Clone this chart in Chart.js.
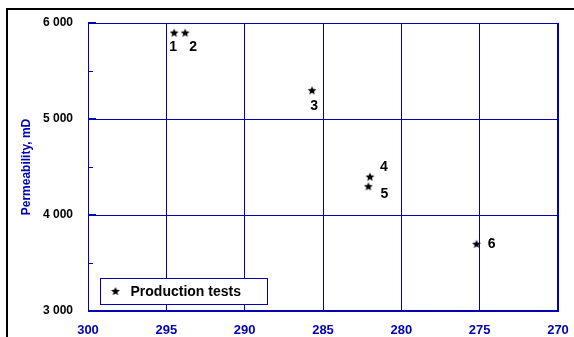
<!DOCTYPE html>
<html>
<head>
<meta charset="utf-8">
<script src="https://cdn.jsdelivr.net/npm/chart.js@4.4.0/dist/chart.umd.min.js"></script>
<style>
  html, body { margin: 0; padding: 0; background: #fff; overflow: hidden; }
  #wrap { position: relative; width: 574px; height: 337px; }
  #frame {
    position: absolute; left: 6px; top: 8px; width: 600px; height: 360px;
    border-left: 2px solid #000; border-top: 2px solid #000;
  }
  canvas { position: absolute; left: 0; top: 0; }
</style>
</head>
<body>
<div id="wrap">
  <div id="frame"></div>
  <canvas id="chart" width="574" height="337"></canvas>
</div>
<script>
const xTicks = [300, 295, 290, 285, 280, 275, 270];
const yTicks = [3000, 4000, 5000, 6000];
const yMinorTicks = [3500, 4500, 5500];
const testNames = ['1', '2', '3', '4', '5', '6'];
const xValues = [294.5, 293.8, 285.7, 282.0, 282.1, 275.2];
const permeability = [5900, 5900, 5300, 4400, 4300, 3700];

const navy = '#0000b4';
const fontFamily = 'Arial, "Liberation Sans", sans-serif';

// label placement next to each star, in px
const labelOffsets = [[-1, 15], [8, 15], [2, 16], [14, -9], [16, 8], [15, 0]];

function makeStar(r) {
  const c = document.createElement('canvas');
  c.width = c.height = Math.ceil(r * 2 + 2);
  const ctx = c.getContext('2d');
  const cx = c.width / 2;
  ctx.fillStyle = '#000';
  ctx.beginPath();
  for (let i = 0; i < 10; i++) {
    const rad = i % 2 === 0 ? r : r * 0.45;
    const a = -Math.PI / 2 + i * Math.PI / 5;
    const px = cx + rad * Math.cos(a);
    const py = cx + 0.5 + rad * Math.sin(a);
    if (i === 0) ctx.moveTo(px, py); else ctx.lineTo(px, py);
  }
  ctx.closePath();
  ctx.fill();
  return c;
}

const starImg = makeStar(4.6);

function spaced(v) {
  return String(v).replace(/\B(?=(\d{3})+(?!\d))/g, ' ');
}

const extras = {
  id: 'extras',
  afterDraw(chart) {
    const { ctx, chartArea, scales } = chart;
    const y = scales.y;
    ctx.save();

    // inward ticks on the y axis
    ctx.strokeStyle = navy;
    ctx.lineWidth = 1;
    yMinorTicks.forEach((v) => {
      const py = Math.round(y.getPixelForValue(v)) + 0.5;
      ctx.beginPath();
      ctx.moveTo(chartArea.left, py);
      ctx.lineTo(chartArea.left + 5, py);
      ctx.stroke();
    });
    ctx.lineWidth = 2;
    yTicks.forEach((v) => {
      const py = Math.round(y.getPixelForValue(v));
      ctx.beginPath();
      ctx.moveTo(chartArea.left, py);
      ctx.lineTo(chartArea.left + 8, py);
      ctx.stroke();
    });

    // y title
    ctx.fillStyle = navy;
    ctx.font = 'bold 12px ' + fontFamily;
    ctx.textAlign = 'center';
    ctx.textBaseline = 'middle';
    ctx.translate(26.5, (chartArea.top + chartArea.bottom) / 2);
    ctx.rotate(-Math.PI / 2);
    ctx.fillText('Permeability, mD', 0, 0);
    ctx.setTransform(1, 0, 0, 1, 0, 0);

    // test numbers
    const meta = chart.getDatasetMeta(0);
    ctx.fillStyle = '#000';
    ctx.font = 'bold 14px ' + fontFamily;
    meta.data.forEach((pt, i) => {
      const [dx, dy] = labelOffsets[i];
      ctx.fillText(testNames[i], pt.x + dx, pt.y + dy);
    });

    // legend box
    ctx.fillStyle = '#fff';
    ctx.fillRect(100, 278, 167, 26);
    ctx.strokeStyle = navy;
    ctx.lineWidth = 1;
    ctx.strokeRect(100.5, 278.5, 167, 26);
    ctx.drawImage(starImg, 115.5 - starImg.width / 2, 291 - starImg.height / 2);
    ctx.fillStyle = '#000';
    ctx.font = 'bold 14px ' + fontFamily;
    ctx.textAlign = 'left';
    ctx.fillText(chart.data.datasets[0].label, 130.5, 292);

    ctx.restore();
  },
};

new Chart(document.getElementById('chart'), {
  type: 'scatter',
  data: {
    datasets: [{
      label: 'Production tests',
      data: xValues.map((x, i) => ({ x, y: permeability[i] })),
      pointStyle: starImg,
      pointRadius: 5,
      pointHoverRadius: 5,
    }],
  },
  options: {
    responsive: false,
    animation: false,
    layout: { padding: { top: 23, right: 16, left: 0, bottom: 0 } },
    plugins: {
      legend: { display: false },
      tooltip: { enabled: false },
    },
    scales: {
      x: {
        type: 'linear',
        reverse: true,
        min: 270,
        max: 300,
        afterBuildTicks(scale) {
          scale.ticks = xTicks.map((value) => ({ value }));
        },
        afterFit(scale) {
          scale.height = 26;
          scale.paddingLeft = 0;
          scale.paddingRight = 0;
        },
        grid: { color: navy, lineWidth: 1, drawTicks: false },
        border: { display: true, color: navy, width: 1 },
        ticks: {
          padding: 12,
          color: navy,
          font: { family: fontFamily, size: 13, weight: 'bold' },
          maxRotation: 0,
        },
      },
      y: {
        min: 3000,
        max: 6000,
        afterBuildTicks(scale) {
          scale.ticks = yTicks.map((value) => ({ value }));
        },
        afterFit(scale) {
          scale.width = 88;
          scale.paddingTop = 0;
          scale.paddingBottom = 0;
        },
        grid: { color: navy, lineWidth: 1, drawTicks: false },
        border: { display: true, color: navy, width: 1 },
        ticks: {
          padding: 15,
          color: '#000',
          font: { family: fontFamily, size: 12, weight: 'bold' },
          callback: (v) => spaced(v),
        },
      },
    },
  },
  plugins: [{
    id: 'plotBorder',
    beforeDatasetsDraw(chart) {
      const { ctx, chartArea } = chart;
      ctx.save();
      ctx.strokeStyle = navy;
      ctx.lineWidth = 1;
      ctx.strokeRect(chartArea.left + 0.5, chartArea.top + 0.5,
        chartArea.right - chartArea.left - 1, chartArea.bottom - chartArea.top - 1);
      ctx.restore();
    },
  }, extras],
});
</script>
</body>
</html>
